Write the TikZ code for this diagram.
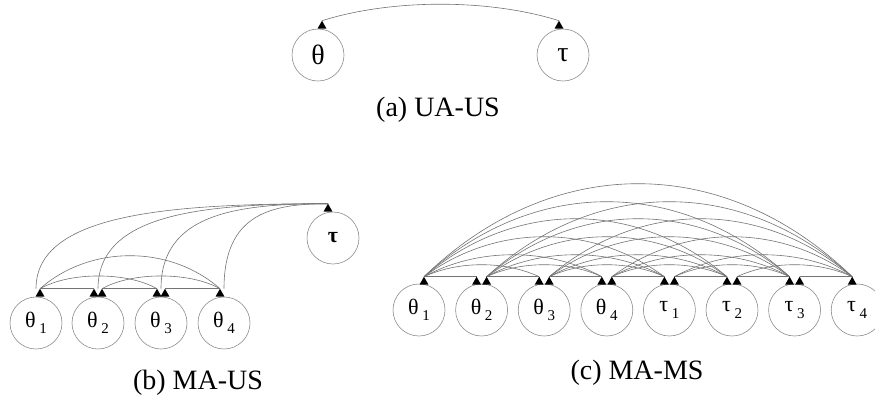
\documentclass[tikz,border=0pt]{standalone}
\usepackage{fontspec}
\setmainfont{Liberation Serif}
\begin{document}
\begin{tikzpicture}[x=1pt,y=-1pt,
  vert/.style={circle,draw=black!45,line width=0.6pt,minimum size=52pt,inner sep=0pt},
  big/.style={font=\fontsize{28}{30}\selectfont},
  small/.style={font=\fontsize{22}{24}\selectfont},
  edge/.style={draw=black!55,line width=0.6pt},
  captext/.style={font=\fontsize{28}{30}\selectfont,anchor=center},
]
\newcommand\mytri[1]{\fill (#1) -- ++(-4.5,8) -- ++(9,0) -- cycle;}
\newcommand\sub[1]{\,\raisebox{-0.3em}{\fontsize{15}{16}\selectfont #1}}
\useasboundingbox (0,0) rectangle (875,400);

% ---------------- (a) UA-US
\node[vert,big] (a1) at (318,55) {θ};
\node[vert,big] (a2) at (563,55) {τ};
\path (a1.north) ++(4,-8) coordinate (aR1);
\path (a2.north) ++(-4,-8) coordinate (aL2);
\draw[edge] (aR1) .. controls +(70,-22) and +(-70,-22) .. (aL2);
\mytri{aR1}
\mytri{aL2}
\node[captext] (capa) at (438,110) {(a) UA-US};

% ---------------- (b) MA-US
\foreach \k/\x in {1/36,2/98,3/161,4/224}{
  \node[vert,small] (b\k) at (\x,323) {θ\sub{\k}};
  \path (b\k.north) ++(-4,-8) coordinate (bL\k);
  \path (b\k.north) ++(4,-8) coordinate (bR\k);
  \path (b\k.north) ++(0,-8) coordinate (bC\k);
}
\node[vert,small] (bt) at (333,238) {\textbf{τ}};
\path (bt.north) ++(-5,-8) coordinate (btL);
% theta-theta edges
\draw[edge] (bR1) -- (bL2);
\draw[edge] (bR2) -- (bL3);
\draw[edge] (bR3) -- (bL4);
\draw[edge] (bR1) .. controls +(30,-17) and +(-30,-17) .. (bL3);
\draw[edge] (bR2) .. controls +(30,-17) and +(-30,-17) .. (bL4);
\draw[edge] (bR1) .. controls +(50,-44) and +(-50,-44) .. (bL4);
% theta-tau edges
\foreach \k/\w in {1/160,2/126,3/92,4/57}{
  \draw[edge] (bC\k) .. controls +(0,-75) and +(-\w,0) .. (btL);
}
\mytri{bR1}
\foreach \k in {2,3}{\mytri{bL\k}\mytri{bR\k}}
\mytri{bL4}
\mytri{btL}
\node[captext] (capb) at (198,383) {(b) MA-US};

% ---------------- (c) MA-MS
\foreach \k/\x/\lab in {1/419/θ,2/481.6/θ,3/544.2/θ,4/606.8/θ,5/669.4/τ,6/732/τ,7/794.6/τ,8/857.2/τ}{
  \pgfmathtruncatemacro\m{\k>4 ? \k-4 : \k}
  \node[vert,small] (c\k) at (\x,310) {\lab\sub{\m}};
  \path (c\k.north) ++(-5,-7) coordinate (cL\k);
  \path (c\k.north) ++(5,-7) coordinate (cR\k);
}
\foreach \i in {1,...,7}{
  \pgfmathtruncatemacro\ni{\i+1}
  \foreach \j in {\ni,...,8}{
    \pgfmathtruncatemacro\d{\j-\i}
    \ifnum\d=1
      \draw[edge] (cR\i) -- (cL\j);
    \else
      \pgfmathsetmacro\H{{0,0,16,29.3,53.3,77.3,100,124}[\d]}
      \pgfmathsetmacro\a{0.3*(62.6*\d-10)}
      \draw[edge] (cR\i) .. controls +(\a,-\H) and +(-\a,-\H) .. (cL\j);
    \fi
  }
}
\mytri{cR1}
\foreach \k in {2,...,7}{\mytri{cL\k}\mytri{cR\k}}
\mytri{cL8}
\node[captext] (capc) at (637,373) {(c) MA-MS};
\end{tikzpicture}
\end{document}
